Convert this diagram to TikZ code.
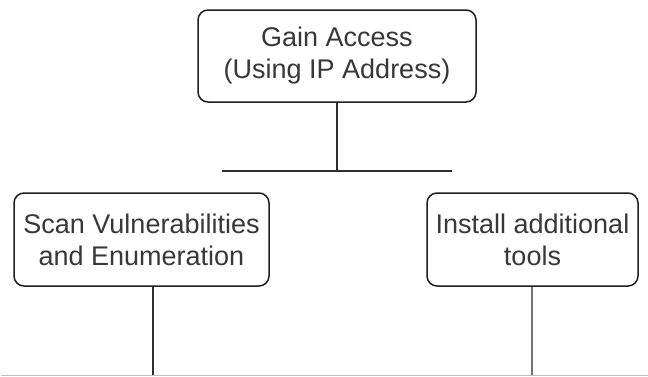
\documentclass[tikz,border=0pt]{standalone}
\usepackage{fontspec}
\setmainfont{Liberation Sans}
\begin{document}
\begin{tikzpicture}[x=1pt,y=-1pt,
  box/.style={draw=black!88, line width=1.5pt, rounded corners=10pt,
    fill=white, inner sep=0pt, align=center, text=black!78,
    font=\fontsize{27}{32}\selectfont},
  link/.style={draw=black!82, line width=2pt},
  linklight/.style={draw=black!55, line width=2pt}]
  \useasboundingbox (0,0) rectangle (648,376);
  \fill[white] (0,0) rectangle (648,376);

  % boxes
  \node[box, minimum width=278pt, minimum height=92pt] (gain) at (337,56)
    {Gain Access\\(Using IP Address)};
  \node[box, minimum width=255pt, minimum height=93pt] (scan) at (141.5,239.5)
    {Scan Vulnerabilities\\and Enumeration};
  \node[box, minimum width=211pt, minimum height=93pt] (tools) at (532.5,239.5)
    {Install additional\\tools};

  % branch points
  \coordinate (bus) at (337,170.7);
  \coordinate (busL) at (222,170.7);
  \coordinate (busR) at (452,170.7);
  \coordinate (scanEnd) at (153,376);
  \coordinate (toolsEnd) at (532,376);
  \coordinate (edgeL) at (1,375.3);
  \coordinate (edgeR) at (648,375.3);

  % connectors
  \draw[link] (gain.south) -- (bus);
  \draw[link] (busL) -- (busR);
  \draw[link] (scan.south -| scanEnd) -- (scanEnd);
  \draw[linklight] (tools.south -| toolsEnd) -- (toolsEnd);
  \draw[draw=black!25, line width=1pt] (edgeL) -- (edgeR);
\end{tikzpicture}
\end{document}
